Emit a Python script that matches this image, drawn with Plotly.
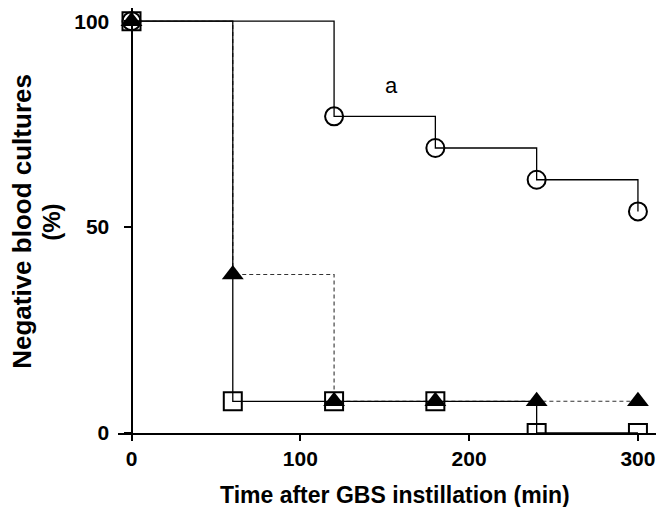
import plotly.graph_objects as go

time_min = [0, 60, 120, 180, 240, 300]
circle_x = [0, 120, 180, 240, 300]
circle_y = [100, 76.9, 69.2, 61.5, 53.8]
triangle_y = [100, 38.5, 7.7, 7.7, 7.7, 7.7]
square_y = [100, 7.7, 7.7, 7.7, 0, 0]
x_ticks = [0, 100, 200, 300]
y_ticks = [0, 50, 100]

XMIN, XMAX = -8, 310.7
FONT = "Arial, Liberation Sans"
fig = go.Figure()

fig.add_trace(go.Scatter(
    x=circle_x, y=circle_y, mode="lines+markers", line_shape="hv",
    line=dict(color="black", width=1.3),
    marker=dict(symbol="circle-open", size=18, color="black", line=dict(width=2)),
    showlegend=False))
fig.add_trace(go.Scatter(
    x=time_min, y=triangle_y, mode="lines+markers", line_shape="hv",
    line=dict(color="#333", width=1.1, dash="4px,3px"),
    marker=dict(symbol="triangle-up", size=19, color="black"),
    showlegend=False))
fig.add_trace(go.Scatter(
    x=time_min, y=square_y, mode="lines+markers", line_shape="hv",
    line=dict(color="black", width=1.3),
    marker=dict(symbol="square-open", size=18, color="black", line=dict(width=2)),
    showlegend=False))

fig.add_annotation(x=154, y=84.5, text="a", showarrow=False,
                   font=dict(family=FONT, size=22, color="black"))

# axis titles as annotations (paper coordinates)
fig.add_annotation(xref="paper", yref="paper", x=-0.1784, y=0.497,
                   text="Negative blood cultures", textangle=-90, showarrow=False,
                   xanchor="center", yanchor="middle",
                   font=dict(family=FONT, size=26, weight="bold", color="black"))
fig.add_annotation(xref="paper", yref="paper", x=-0.1227, y=0.497,
                   text="(%)", textangle=-90, showarrow=False,
                   xanchor="center", yanchor="middle",
                   font=dict(family=FONT, size=24, weight="bold", color="black"))
fig.add_annotation(xref="paper", yref="paper", x=0.5149, y=-0.145,
                   text="Time after GBS instillation (min)", showarrow=False,
                   xanchor="center", yanchor="middle",
                   font=dict(family=FONT, size=23, weight="bold", color="black"))

fig.update_layout(
    width=658, height=507,
    margin=dict(l=118, r=2, t=8, b=74, autoexpand=False),
    plot_bgcolor="white", paper_bgcolor="white",
    font=dict(family=FONT, color="black"),
    xaxis=dict(range=[XMIN, XMAX], tickvals=x_ticks, showgrid=False, zeroline=False,
               automargin=False,
               showline=True, linecolor="black", linewidth=2,
               ticks="outside", ticklen=6, tickwidth=2, tickcolor="black",
               tickfont=dict(size=21, family=FONT, weight="bold")),
    yaxis=dict(range=[0, 103.2], tickvals=y_ticks, showgrid=False, zeroline=False,
               automargin=False,
               anchor="free", position=(0 - XMIN) / (XMAX - XMIN),
               showline=True, linecolor="black", linewidth=2,
               ticks="outside", ticklen=7, tickwidth=2, tickcolor="black",
               ticklabelstandoff=10,
               tickfont=dict(size=21, family=FONT, weight="bold")),
)

fig.write_html("out.html", config={"displayModeBar": False},
               post_script="document.body.style.margin='0';document.body.style.overflow='hidden';")
